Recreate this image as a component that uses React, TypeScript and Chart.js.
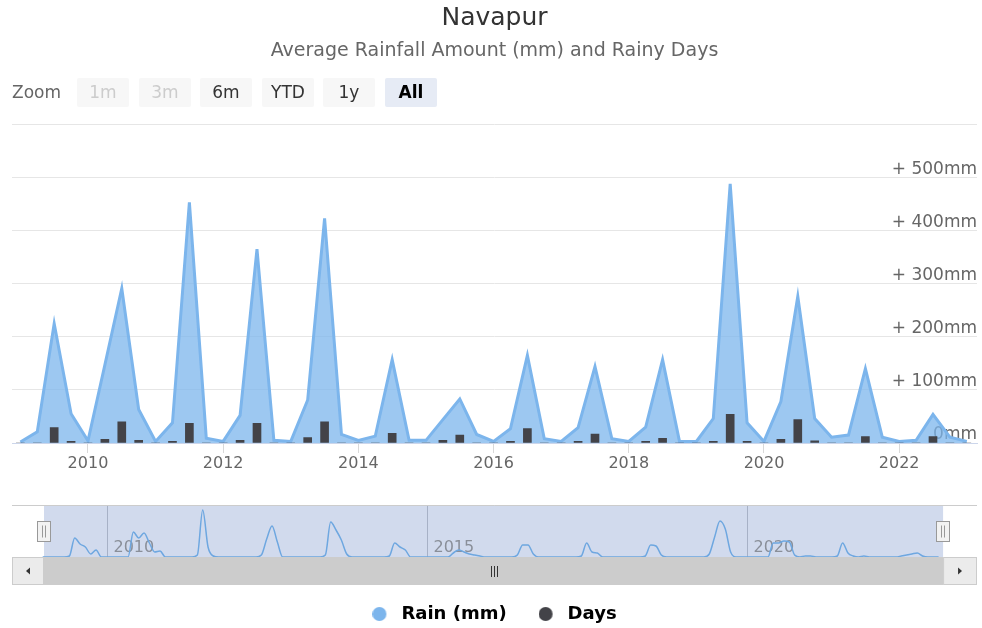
import React, { useEffect, useRef } from 'react';
import { Chart, registerables } from 'chart.js';

Chart.register(...registerables);

// ---------- DATA ----------
const quarters = [
  '2009-01', '2009-04', '2009-07', '2009-10',
  '2010-01', '2010-04', '2010-07', '2010-10',
  '2011-01', '2011-04', '2011-07', '2011-10',
  '2012-01', '2012-04', '2012-07', '2012-10',
  '2013-01', '2013-04', '2013-07', '2013-10',
  '2014-01', '2014-04', '2014-07', '2014-10',
  '2015-01', '2015-04', '2015-07', '2015-10',
  '2016-01', '2016-04', '2016-07', '2016-10',
  '2017-01', '2017-04', '2017-07', '2017-10',
  '2018-01', '2018-04', '2018-07', '2018-10',
  '2019-01', '2019-04', '2019-07', '2019-10',
  '2020-01', '2020-04', '2020-07', '2020-10',
  '2021-01', '2021-04', '2021-07', '2021-10',
  '2022-01', '2022-04', '2022-07', '2022-10',
  '2023-01',
];

const rainMm = [
  2, 21, 225, 55,
  4, 147, 291, 63,
  3, 38, 453, 9,
  3, 52, 365, 5,
  3, 81, 423, 16,
  5, 13, 157, 5,
  5, 44, 83, 16,
  3, 27, 165, 8,
  3, 29, 144, 8,
  3, 30, 157, 3,
  3, 46, 488, 38,
  3, 78, 276, 46,
  11, 15, 140, 11,
  3, 5, 54, 11,
  3,
];

const rainyDays = [
  0, 0, 29, 3,
  0, 7, 40, 5,
  0, 3, 37, 0,
  0, 5, 37, 0,
  0, 10, 40, 0,
  0, 0, 18, 0,
  0, 5, 15, 0,
  0, 3, 27, 0,
  0, 3, 17, 0,
  0, 3, 9, 0,
  0, 3, 54, 3,
  0, 7, 44, 4,
  0, 0, 12, 0,
  0, 0, 12, 0,
  0,
];

const xTickValues = [2010, 2012, 2014, 2016, 2018, 2020, 2022];
const xTickLabels = ['2010', '2012', '2014', '2016', '2018', '2020', '2022'];
const yTickValues = [0, 100, 200, 300, 400, 500, 600];
const yTickLabels = ['0mm', '+ 100mm', '+ 200mm', '+ 300mm', '+ 400mm', '+ 500mm', ''];

// navigator (monthly series, Jan 2009 .. Jan 2023)
const navigatorStartYear = 2009;
const navigatorMonthly = [
  0, 0, 0, 0, 0, 1, 19, 13, 10, 3, 7, 0,
  0, 0, 0, 0, 0, 25, 19, 24, 14, 5, 6, 0,
  0, 0, 0, 0, 0, 2, 47, 10, 1, 0, 0, 0,
  0, 0, 0, 0, 0, 2, 18, 31, 15, 0, 0, 0,
  0, 0, 0, 0, 0, 2, 35, 27, 17, 3, 0, 0,
  0, 0, 0, 0, 0, 1, 14, 10, 7, 0, 0, 0,
  0, 0, 0, 0, 0, 4, 7, 5, 3, 2, 1, 0,
  0, 0, 0, 0, 0, 2, 12, 12, 3, 0, 0, 0,
  0, 0, 0, 0, 0, 1, 14, 5, 4, 0, 0, 0,
  0, 0, 0, 0, 0, 1, 12, 11, 2, 0, 0, 0,
  0, 0, 0, 0, 0, 3, 20, 36, 28, 5, 0, 0,
  0, 0, 0, 0, 0, 14, 14, 16, 15, 2, 0, 1,
  1, 0, 0, 0, 0, 1, 14, 4, 1, 0, 1, 0,
  0, 0, 0, 0, 0, 1, 2, 3, 4, 1, 0, 0,
  0,
];
const navigatorTickValues = [2010, 2015, 2020];
const navigatorTickLabels = ['2010', '2015', '2020'];
const selectedRange = [2009.02, 2023.07];

const zoomButtons = ['1m', '3m', '6m', 'YTD', '1y', 'All'];
const disabledButtons = ['1m', '3m'];
const selectedButton = 'All';

const seriesNames = ['Rain (mm)', 'Days'];

// ---------- STYLE ----------
const FONT = '"DejaVu Sans", Verdana, sans-serif';
const RAIN_COLOR = '#7cb5ec';
const DAYS_COLOR = '#434348';

function toYear(q: string): number {
  const [y, m] = q.split('-').map(Number);
  return y + (m - 1) / 12;
}

function makeDot(color: string): HTMLCanvasElement {
  const c = document.createElement('canvas');
  c.width = 20;
  c.height = 14;
  const g = c.getContext('2d')!;
  g.fillStyle = color;
  g.beginPath();
  g.arc(7, 7, 7, 0, Math.PI * 2);
  g.fill();
  return c;
}

export default function App() {
  const mainRef = useRef<HTMLCanvasElement>(null);
  const navRef = useRef<HTMLCanvasElement>(null);

  useEffect(() => {
    document.body.style.margin = '0';
    Chart.defaults.font.family = FONT;

    const rainDot = makeDot(RAIN_COLOR);
    const daysDot = makeDot(DAYS_COLOR);

    const main = new Chart(mainRef.current!, {
      type: 'line',
      data: {
        datasets: [
          {
            type: 'bar',
            label: seriesNames[1],
            data: quarters.map((q, i) => ({ x: toYear(q), y: rainyDays[i] })),
            backgroundColor: DAYS_COLOR,
            borderWidth: 0,
            barThickness: 8,
            order: 0,
          } as any,
          {
            type: 'line',
            label: seriesNames[0],
            data: quarters.map((q, i) => ({ x: toYear(q), y: rainMm[i] })),
            borderColor: RAIN_COLOR,
            backgroundColor: 'rgba(124,181,236,0.75)',
            borderWidth: 3,
            fill: 'origin',
            pointRadius: 0,
            tension: 0,
            order: 1,
          },
        ],
      },
      options: {
        responsive: false,
        animation: false,
        events: [],
        layout: { padding: { left: 12, right: 5, top: 0, bottom: -5 } },
        plugins: {
          title: {
            display: true,
            text: 'Navapur',
            color: '#333333',
            font: { size: 25, weight: 'normal', family: FONT },
            padding: { top: 3, bottom: 0 },
          },
          subtitle: {
            display: true,
            text: 'Average Rainfall Amount (mm) and Rainy Days',
            color: '#666666',
            font: { size: 19, weight: 'normal', family: FONT },
            padding: { top: 6.6, bottom: 62 },
          },
          legend: {
            display: true,
            position: 'bottom',
            labels: {
              usePointStyle: true,
              pointStyleWidth: 20,
              boxHeight: 14,
              padding: 32,
              color: '#333333',
              font: { size: 18, weight: 'bold', family: FONT },
              generateLabels: () => [
                { text: seriesNames[0], fillStyle: RAIN_COLOR, strokeStyle: RAIN_COLOR, lineWidth: 0, pointStyle: rainDot as any, hidden: false, datasetIndex: 1 },
                { text: seriesNames[1], fillStyle: DAYS_COLOR, strokeStyle: DAYS_COLOR, lineWidth: 0, pointStyle: daysDot as any, hidden: false, datasetIndex: 0 },
              ],
            },
          },
          tooltip: { enabled: false },
        },
        scales: {
          x: {
            type: 'linear',
            min: 2008.876,
            max: 2023.151,
            offset: false,
            afterBuildTicks: (scale: any) => {
              scale.ticks = xTickValues.map((v) => ({ value: v }));
            },
            afterFit: (scale: any) => {
              scale.height = 130;
            },
            ticks: {
              autoSkip: false,
              maxRotation: 0,
              padding: 1,
              color: '#666666',
              font: { size: 16, family: FONT },
              callback: (_v: any, i: number) => xTickLabels[i],
            },
            grid: {
              drawOnChartArea: false,
              drawTicks: true,
              tickLength: 10,
              color: '#d9d9d9',
              offset: false,
            },
            border: { display: true, color: '#ccd6eb', width: 1 },
          },
          y: {
            type: 'linear',
            position: 'right',
            min: 0,
            max: 600,
            afterBuildTicks: (scale: any) => {
              scale.ticks = yTickValues.map((v) => ({ value: v }));
            },
            ticks: {
              mirror: true,
              padding: 0,
              labelOffset: -8,
              color: '#666666',
              font: { size: 17, family: FONT },
              callback: (_v: any, i: number) => yTickLabels[i],
            },
            grid: { color: '#e6e6e6', drawTicks: false },
            border: { display: false },
          },
        },
      },
    });

    const navPlugin = {
      id: 'navigatorDecor',
      beforeDatasetsDraw(chart: any) {
        const { ctx, chartArea: a, scales } = chart;
        const x = scales.x;
        const m0 = x.getPixelForValue(selectedRange[0]);
        const m1 = x.getPixelForValue(selectedRange[1]);
        ctx.save();
        ctx.fillStyle = 'rgba(102,133,194,0.3)';
        ctx.fillRect(m0, a.top, m1 - m0, a.bottom - a.top);
        ctx.strokeStyle = 'rgba(90,100,125,0.35)';
        ctx.lineWidth = 1;
        ctx.font = `16px ${FONT}`;
        ctx.fillStyle = '#8a8f99';
        ctx.textBaseline = 'middle';
        ctx.textAlign = 'left';
        navigatorTickValues.forEach((v, i) => {
          const px = Math.round(x.getPixelForValue(v)) + 0.5;
          ctx.beginPath();
          ctx.moveTo(px, a.top);
          ctx.lineTo(px, a.bottom);
          ctx.stroke();
          ctx.fillText(navigatorTickLabels[i], px + 6, a.bottom - 9);
        });
        ctx.restore();
      },
      afterDatasetsDraw(chart: any) {
        const { ctx, chartArea: a, scales } = chart;
        const x = scales.x;
        const m0 = x.getPixelForValue(selectedRange[0]);
        const m1 = x.getPixelForValue(selectedRange[1]);
        ctx.save();
        // top outline
        ctx.strokeStyle = '#cccccc';
        ctx.lineWidth = 1;
        ctx.beginPath();
        ctx.moveTo(a.left, a.top + 0.5);
        ctx.lineTo(a.right, a.top + 0.5);
        ctx.stroke();

        // scrollbar
        const y0 = a.bottom;
        const h = 28;
        ctx.fillStyle = '#f2f2f2';
        ctx.fillRect(a.left, y0, a.right - a.left, h);
        ctx.fillStyle = '#cccccc';
        ctx.fillRect(m0, y0, m1 - m0, h);
        // buttons
        ctx.fillStyle = '#ebebeb';
        ctx.strokeStyle = '#cccccc';
        ctx.fillRect(a.left, y0, m0 - a.left, h);
        ctx.strokeRect(a.left + 0.5, y0 + 0.5, m0 - a.left - 1, h - 1);
        ctx.fillRect(m1, y0, a.right - m1, h);
        ctx.strokeRect(m1 + 0.5, y0 + 0.5, a.right - m1 - 1, h - 1);
        // arrows
        const cyA = y0 + h / 2;
        const lcx = (a.left + m0) / 2;
        const rcx = (m1 + a.right) / 2;
        ctx.fillStyle = '#333333';
        ctx.beginPath();
        ctx.moveTo(lcx - 2, cyA);
        ctx.lineTo(lcx + 2, cyA - 3.5);
        ctx.lineTo(lcx + 2, cyA + 3.5);
        ctx.closePath();
        ctx.fill();
        ctx.beginPath();
        ctx.moveTo(rcx + 2, cyA);
        ctx.lineTo(rcx - 2, cyA - 3.5);
        ctx.lineTo(rcx - 2, cyA + 3.5);
        ctx.closePath();
        ctx.fill();
        // grip
        const gcx = Math.round((m0 + m1) / 2) + 0.5;
        ctx.strokeStyle = '#333333';
        [-3, 0, 3].forEach((d) => {
          ctx.beginPath();
          ctx.moveTo(gcx + d, y0 + 9);
          ctx.lineTo(gcx + d, y0 + 20);
          ctx.stroke();
        });

        // handles
        [m0, m1].forEach((m) => {
          const cx = Math.round(m);
          ctx.fillStyle = '#f2f2f2';
          ctx.strokeStyle = '#999999';
          ctx.fillRect(cx - 6.5, a.top + 16.5, 13, 20);
          ctx.strokeRect(cx - 6.5, a.top + 16.5, 13, 20);
          ctx.beginPath();
          ctx.moveTo(cx - 1.5, a.top + 20.5);
          ctx.lineTo(cx - 1.5, a.top + 32.5);
          ctx.moveTo(cx + 1.5, a.top + 20.5);
          ctx.lineTo(cx + 1.5, a.top + 32.5);
          ctx.stroke();
        });
        ctx.restore();
      },
    };

    const nav = new Chart(navRef.current!, {
      type: 'line',
      data: {
        datasets: [
          {
            label: 'navigator',
            data: navigatorMonthly.map((v, i) => ({ x: navigatorStartYear + i / 12, y: v })),
            borderColor: '#6ea7e0',
            borderWidth: 1.5,
            pointRadius: 0,
            fill: false,
            cubicInterpolationMode: 'monotone',
          },
        ],
      },
      options: {
        responsive: false,
        animation: false,
        events: [],
        layout: { padding: { left: 12, right: 5, top: 5, bottom: 33 } },
        plugins: { legend: { display: false }, tooltip: { enabled: false } },
        scales: {
          x: { type: 'linear', display: false, min: 2008.52, max: 2023.6 },
          y: { type: 'linear', display: false, min: 0, max: 52 },
        },
      },
      plugins: [navPlugin],
    });

    return () => {
      main.destroy();
      nav.destroy();
    };
  }, []);

  return (
    <div style={{ position: 'relative', width: 982, height: 628, overflow: 'hidden', background: '#ffffff', fontFamily: FONT }}>
      <canvas ref={mainRef} width={982} height={628} style={{ position: 'absolute', left: 0, top: 0 }} />
      <canvas ref={navRef} width={982} height={90} style={{ position: 'absolute', left: 0, top: 500 }} />
      <div style={{ position: 'absolute', left: 12, top: 78, height: 29, lineHeight: '29px', fontSize: 17, color: '#666666' }}>Zoom</div>
      {zoomButtons.map((b, i) => {
        const disabled = disabledButtons.includes(b);
        const selected = b === selectedButton;
        return (
          <div
            key={b}
            style={{
              position: 'absolute',
              left: 77 + Math.round(i * 61.6),
              top: 78,
              width: 52,
              height: 29,
              lineHeight: '29px',
              textAlign: 'center',
              fontSize: 17,
              borderRadius: 2,
              background: selected ? '#e6ebf5' : '#f7f7f7',
              color: disabled ? '#cccccc' : selected ? '#000000' : '#333333',
              fontWeight: selected ? 'bold' : 'normal',
            }}
          >
            {b}
          </div>
        );
      })}
    </div>
  );
}
